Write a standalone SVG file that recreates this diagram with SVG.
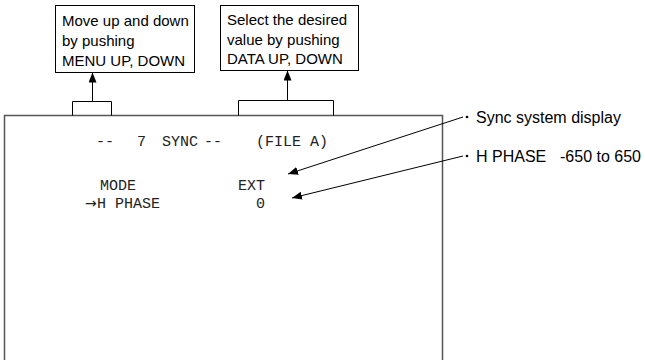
<svg xmlns="http://www.w3.org/2000/svg" width="645" height="360" viewBox="0 0 645 360">
<defs>
<marker id="ah" viewBox="0 0 10 8" refX="10" refY="4" markerWidth="10" markerHeight="8" markerUnits="userSpaceOnUse" orient="auto">
<path d="M0,0 L10,4 L0,8 Z" fill="#000"/>
</marker>
</defs>
<style>
.box{fill:#fff;stroke:#000;stroke-width:1}
.frame{fill:none;stroke:#555;stroke-width:1.5}
.lbl{font-family:"Liberation Sans",Arial,sans-serif;font-size:15px;fill:#000}
.note{font-family:"Liberation Sans",Arial,sans-serif;font-size:16px;fill:#000}
.scr{font-family:"Liberation Mono","Courier New",monospace;font-size:15px;fill:#222}
.arw{font-family:"DejaVu Sans",sans-serif;font-size:14px}
.ln{stroke:#000;stroke-width:1;fill:none}
</style>
<g id="screen">
<path class="frame" d="M4.5,365 V115.5 H442.5 V365"/>
<text class="scr" x="96" y="146">--</text>
<text class="scr" x="137" y="146">7</text>
<text class="scr" x="162" y="146">SYNC</text>
<text class="scr" x="204" y="146">--</text>
<text class="scr" x="256" y="146">(FILE A)</text>
<text class="scr" x="100" y="190">MODE</text>
<text class="scr" x="238" y="190">EXT</text>
<text class="scr" x="85" y="208"><tspan class="arw">→</tspan><tspan x="97">H PHASE</tspan></text>
<text class="scr" x="256" y="208">0</text>
</g>
<g id="tab-menu"><path class="ln" d="M72.5,115.5 V101.5 H111.5 V115.5"/></g>
<g id="tab-data"><path class="ln" d="M238.5,115.5 V100.5 H333.5 V115.5"/></g>
<g id="box-menu">
<rect class="box" x="55.5" y="5.5" width="139" height="67"/>
<text class="lbl" x="62" y="26">Move up and down</text>
<text class="lbl" x="62" y="46">by pushing</text>
<text class="lbl" x="62" y="66">MENU UP, DOWN</text>
</g>
<g id="box-data">
<rect class="box" x="220.5" y="5.5" width="138" height="65"/>
<text class="lbl" x="227" y="25">Select the desired</text>
<text class="lbl" x="227" y="45">value by pushing</text>
<text class="lbl" x="227" y="64">DATA UP, DOWN</text>
</g>
<g id="note-sync">
<circle cx="467" cy="117" r="1.3" fill="#000"/>
<text class="note" x="476" y="123">Sync system display</text>
</g>
<g id="note-hphase">
<circle cx="467" cy="156" r="1.3" fill="#000"/>
<text class="note" x="476" y="162">H PHASE<tspan x="560">-650 to 650</tspan></text>
</g>
<g id="connectors">
<line class="ln" x1="92.5" y1="101.5" x2="92.5" y2="72.5" marker-end="url(#ah)"/>
<line class="ln" x1="287.5" y1="100.5" x2="287.5" y2="70.5" marker-end="url(#ah)"/>
<line class="ln" x1="463" y1="117" x2="288" y2="174" marker-end="url(#ah)"/>
<line class="ln" x1="463" y1="156" x2="292" y2="198" marker-end="url(#ah)"/>
</g>
</svg>
